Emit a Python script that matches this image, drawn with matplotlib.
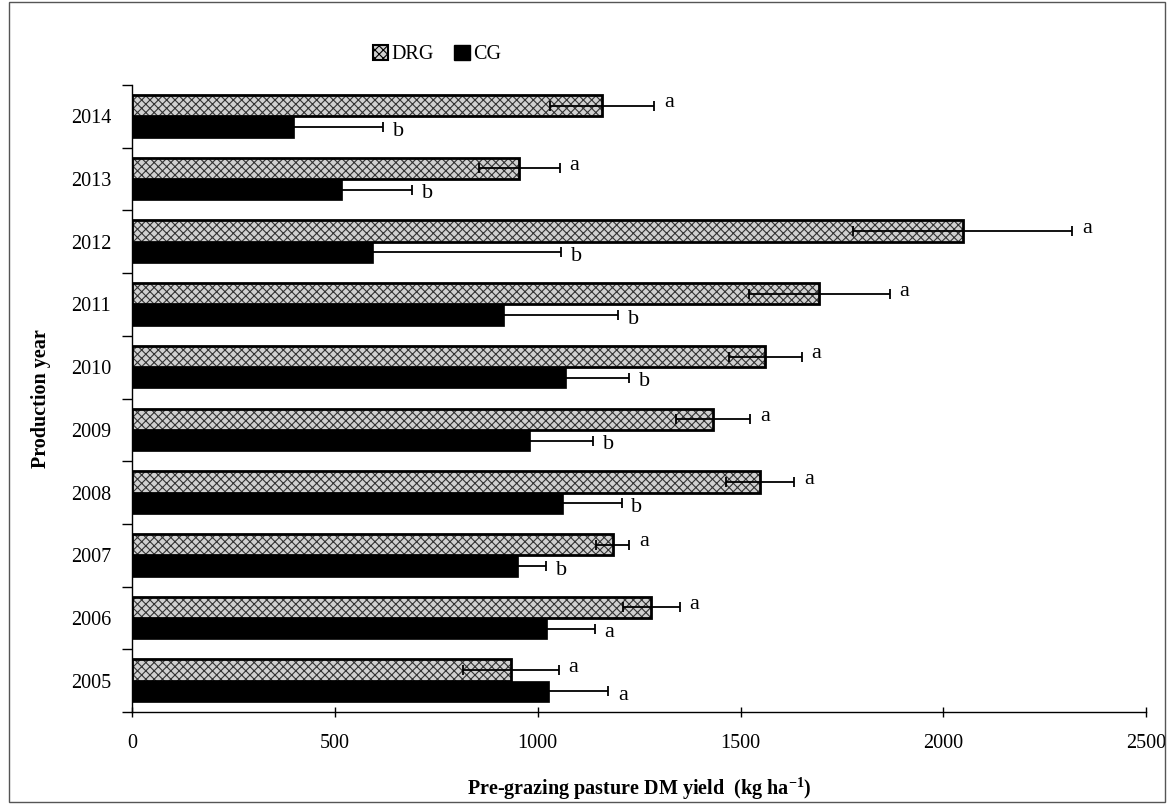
import matplotlib
matplotlib.use("Agg")
import matplotlib.pyplot as plt
from matplotlib.patches import Patch, Rectangle
import numpy as np

plt.rcParams['font.family'] = ['Liberation Serif', 'DejaVu Serif']
plt.rcParams['hatch.linewidth'] = 0.8

# datos (kg DM/ha)
years = ["2005", "2006", "2007", "2008", "2009", "2010", "2011", "2012", "2013", "2014"]
drg_mean = [934, 1280, 1185, 1548, 1433, 1561, 1694, 2048, 955, 1159]
drg_err = [118, 70, 41, 85, 91, 90, 174, 270, 99, 128]
cg_mean = [1028, 1024, 951, 1062, 981, 1070, 917, 594, 518, 400]
cg_err = [146, 117, 70, 145, 156, 155, 281, 463, 172, 219]
drg_letters = ["a", "a", "a", "a", "a", "a", "a", "a", "a", "a"]
cg_letters = ["a", "a", "b", "b", "b", "b", "b", "b", "b", "b"]

fig = plt.figure(figsize=(11.72, 8.05), dpi=100)
ax = fig.add_axes([0.1126, 0.1155, 0.8654, 0.7789])

y = np.arange(len(years))
h = 0.34

# DRG: relleno con trama gris y borde negro
ax.barh(y + h / 2, drg_mean, height=h, color="#d0d0d0", edgecolor="#333333",
        hatch="xxxx", linewidth=0, zorder=2)
ax.barh(y + h / 2, drg_mean, height=h, fill=False, edgecolor="black",
        linewidth=2, zorder=3)
# CG: barras negras
ax.barh(y - h / 2, cg_mean, height=h, color="black", edgecolor="black",
        linewidth=0.5, zorder=2)

ax.errorbar(drg_mean, y + h / 2, xerr=drg_err, fmt="none", ecolor="black",
            elinewidth=1.3, capsize=3.5, capthick=1.3, zorder=4)
ax.errorbar(cg_mean, y - h / 2, xerr=cg_err, fmt="none", ecolor="black",
            elinewidth=1.3, capsize=3.5, capthick=1.3, zorder=1)

# letras de significancia
for i in range(len(years)):
    ax.annotate(drg_letters[i], (drg_mean[i] + drg_err[i], y[i] + h / 2),
                xytext=(7, 2), textcoords="offset points", ha="left",
                va="center", fontsize=16)
    ax.annotate(cg_letters[i], (cg_mean[i] + cg_err[i], y[i] - h / 2),
                xytext=(7, -3), textcoords="offset points", ha="left",
                va="center", fontsize=16)

ax.set_xlim(0, 2500)
ax.set_ylim(-0.5, len(years) - 0.5)
ax.set_xticks([0, 500, 1000, 1500, 2000, 2500])
ax.set_yticks(y)
ax.set_yticklabels(years)
ax.set_yticks(np.arange(-0.5, len(years), 1.0), minor=True)
ax.tick_params(axis="y", which="major", length=0, pad=15, labelsize=14.5)
ax.tick_params(axis="y", which="minor", length=7, width=1, direction="out")
ax.tick_params(axis="x", which="major", length=7, width=1, direction="inout",
               pad=12, labelsize=14.5)

for s in ["top", "right"]:
    ax.spines[s].set_visible(False)
ax.spines["left"].set_linewidth(1)
ax.spines["bottom"].set_linewidth(1)

ax.set_xlabel(r"Pre-grazing pasture DM yield  (kg ha$^{\mathregular{-1}}$)", fontsize=14.5,
              fontweight="bold", labelpad=16)
ax.set_ylabel("Production year", fontsize=14.5, fontweight="bold", labelpad=14)

handles = [Patch(facecolor="#d0d0d0", edgecolor="black", hatch="xxxx", linewidth=1.5, label="DRG"),
           Patch(facecolor="black", edgecolor="black", label="CG")]
fig.legend(handles=handles, loc="center", bbox_to_anchor=(0.373, 0.932), ncol=2,
           frameon=False, fontsize=14.5, handlelength=0.75, handleheight=0.75,
           handletextpad=0.2, columnspacing=1.0)

# marco del grafico
fig.patches.append(Rectangle((0.008, 0.004), 0.986, 0.994, transform=fig.transFigure,
                             fill=False, edgecolor="#555555", linewidth=1))

fig.savefig("out.png", dpi=100)
